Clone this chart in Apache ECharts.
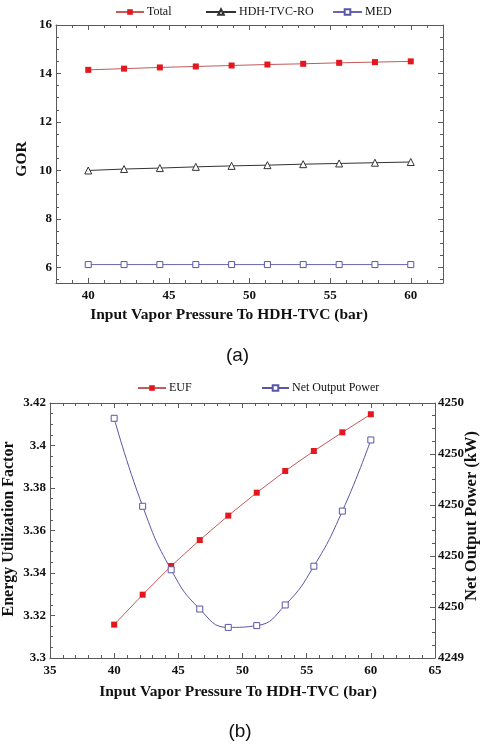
<!DOCTYPE html>
<html><head><meta charset="utf-8">
<script src="https://cdn.jsdelivr.net/npm/echarts@6/dist/echarts.min.js"></script>
<style>html,body{margin:0;padding:0;background:#fff}#c{width:481px;height:746px}</style>
</head><body><div id="c"></div>
<script>
// ---- data ----
const pressure = [40, 42.22, 44.44, 46.67, 48.89, 51.11, 53.33, 55.56, 57.78, 60];
const gorTotal = [14.15, 14.20, 14.25, 14.29, 14.33, 14.37, 14.40, 14.44, 14.47, 14.50];
const gorHdh   = [10.00, 10.06, 10.10, 10.15, 10.19, 10.22, 10.26, 10.29, 10.32, 10.35];
const gorMed   = [6.12, 6.12, 6.12, 6.12, 6.12, 6.12, 6.12, 6.12, 6.12, 6.12];
const euf      = [3.3157, 3.3298, 3.3433, 3.3555, 3.3670, 3.3778, 3.3880, 3.3974, 3.4062, 3.4147];
const netPower = [4250.340, 4249.995, 4249.746, 4249.592, 4249.520, 4249.527, 4249.608, 4249.760, 4249.976, 4250.255];

// ---- tick labels ----
const xTicksA = [40, 45, 50, 55, 60];
const yTicksA = [6, 8, 10, 12, 14, 16];
const xTicksB = [35, 40, 45, 50, 55, 60, 65];
const yTicksB = [3.30, 3.32, 3.34, 3.36, 3.38, 3.40, 3.42];
const yTicksB2 = [4249.4, 4249.6, 4249.8, 4250.0, 4250.2, 4250.4];

const AXIS = '#5a5a5a';
const SERIF = 'Liberation Serif';

function minorTicks(majors, n, lo, hi) {
  const step = (majors[1] - majors[0]) / n;
  const k0 = Math.ceil((lo - majors[0]) / step - 1e-9);
  const k1 = Math.floor((hi - majors[0]) / step + 1e-9);
  const out = [];
  for (let k = k0; k <= k1; k++) {
    if (k % n === 0) continue;
    out.push(+(majors[0] + k * step).toFixed(6));
  }
  return out;
}

function axisPair(grid, pos, min, max, majors, minorVals, labelOpt) {
  const common = {type: 'value', gridIndex: grid, position: pos, min: min, max: max,
    splitLine: {show: false}, scale: true};
  const major = Object.assign({}, common, {
    axisLine: {show: true, onZero: false, lineStyle: {color: AXIS, width: 1}},
    axisTick: {show: true, inside: true, length: 5, customValues: majors, lineStyle: {color: AXIS, width: 1}},
    axisLabel: labelOpt ? Object.assign({show: true, customValues: majors, fontFamily: SERIF,
      fontWeight: 'bold', fontSize: 13, color: '#111'}, labelOpt) : {show: false}
  });
  const minor = Object.assign({}, common, {
    axisLine: {show: false, onZero: false},
    axisTick: {show: true, inside: true, length: 3, customValues: minorVals, lineStyle: {color: AXIS, width: 1}},
    axisLabel: {show: false}
  });
  return [major, minor];
}

const xMinA = 38, xMaxA = 62, yMinA = 5.36, yMaxA = 16;
const xMinB = 35, xMaxB = 65, yMinB = 3.30, yMaxB = 3.42, y2MinB = 4249.4, y2MaxB = 4250.4;

const xAxes = [].concat(
  axisPair(0, 'bottom', xMinA, xMaxA, xTicksA, minorTicks(xTicksA, 5, xMinA, xMaxA), {margin: 6}),
  axisPair(0, 'top', xMinA, xMaxA, xTicksA, minorTicks(xTicksA, 5, xMinA, xMaxA), null),
  axisPair(1, 'bottom', xMinB, xMaxB, xTicksB, minorTicks(xTicksB, 5, xMinB, xMaxB), {margin: 6}),
  axisPair(1, 'top', xMinB, xMaxB, xTicksB, minorTicks(xTicksB, 5, xMinB, xMaxB), null)
);
const yAxes = [].concat(
  axisPair(0, 'left', yMinA, yMaxA, yTicksA, minorTicks(yTicksA, 4, yMinA, yMaxA), {margin: 4}),
  axisPair(0, 'right', yMinA, yMaxA, yTicksA, minorTicks(yTicksA, 4, yMinA, yMaxA), null),
  axisPair(1, 'left', yMinB, yMaxB, yTicksB, minorTicks(yTicksB, 4, yMinB, yMaxB),
    {margin: 4, formatter: v => String(+(+v).toFixed(3))}),
  axisPair(1, 'right', y2MinB, y2MaxB, yTicksB2, minorTicks(yTicksB2, 4, y2MinB, y2MaxB),
    {margin: 3, formatter: v => String(Math.round(v))})
);

function pts(ys) { return pressure.map((p, i) => [p, ys[i]]); }

function legendItem(name, left, top, w) {
  return {data: [name], left: left, top: top, itemWidth: w, itemHeight: 7, itemGap: 0, padding: 0,
    selectedMode: false,
    textStyle: {fontFamily: SERIF, fontSize: 12, color: '#111', padding: [0, 0, 0, -2]}};
}

function gtext(text, x, y, size, rot, family, weight) {
  return {type: 'text', x: x, y: y, rotation: rot || 0, silent: true,
    style: {text: text, fontSize: size, fontFamily: family || SERIF, fontWeight: weight || 'bold',
      fill: '#111', textAlign: 'center', align: 'center', textVerticalAlign: 'middle', verticalAlign: 'middle'}};
}

const option = {
  animation: false,
  backgroundColor: '#fff',
  grid: [
    {left: 56, top: 25, width: 387, height: 258, containLabel: false, outerBoundsMode: 'none'},
    {left: 50, top: 403, width: 385, height: 255, containLabel: false, outerBoundsMode: 'none'}
  ],
  xAxis: xAxes,
  yAxis: yAxes,
  legend: [
    legendItem('Total', 115, 6, 28),
    legendItem('HDH-TVC-RO', 205, 6, 30),
    legendItem('MED', 332, 6, 29),
    legendItem('EUF', 137, 382, 28),
    legendItem('Net Output Power', 261, 382, 27)
  ],
  series: [
    {name: 'Total', type: 'line', xAxisIndex: 0, yAxisIndex: 0, data: pts(gorTotal),
      symbol: 'rect', symbolSize: 6, showAllSymbol: true,
      itemStyle: {color: '#e3171d'}, lineStyle: {color: '#c45a5a', width: 1}},
    {name: 'HDH-TVC-RO', type: 'line', xAxisIndex: 0, yAxisIndex: 0, data: pts(gorHdh),
      symbol: 'triangle', symbolSize: 7, showAllSymbol: true,
      itemStyle: {color: '#fff', borderColor: '#333', borderWidth: 1}, lineStyle: {color: '#333', width: 1}},
    {name: 'MED', type: 'line', xAxisIndex: 0, yAxisIndex: 0, data: pts(gorMed),
      symbol: 'rect', symbolSize: 6, showAllSymbol: true,
      itemStyle: {color: '#fff', borderColor: '#5a56a6', borderWidth: 1}, lineStyle: {color: '#6a66b4', width: 1}},
    {name: 'EUF', type: 'line', xAxisIndex: 4, yAxisIndex: 4, data: pts(euf),
      symbol: 'rect', symbolSize: 6, showAllSymbol: true,
      itemStyle: {color: '#e3171d'}, lineStyle: {color: '#c45a5a', width: 1}},
    {name: 'Net Output Power', type: 'line', xAxisIndex: 4, yAxisIndex: 6, data: pts(netPower),
      smooth: 0.5, symbol: 'rect', symbolSize: 6, showAllSymbol: true,
      itemStyle: {color: '#fff', borderColor: '#5a56a6', borderWidth: 1}, lineStyle: {color: '#5a56a6', width: 1}}
  ],
  graphic: [
    gtext('Input Vapor Pressure To HDH-TVC (bar)', 229, 315, 15.5),
    gtext('GOR', 22, 159, 15.5, Math.PI / 2),
    gtext('(a)', 237.5, 356, 19, 0, 'Liberation Sans', 'normal'),
    gtext('Input Vapor Pressure To HDH-TVC (bar)', 238, 692, 15.5),
    gtext('Energy Utilization Factor', 8.5, 529, 16, Math.PI / 2),
    gtext('Net Output Power (kW)', 472, 516, 16.5, Math.PI / 2),
    gtext('(b)', 240, 732, 19, 0, 'Liberation Sans', 'normal')
  ]
};

const chart = echarts.init(document.getElementById('c'), null, {renderer: 'canvas'});
chart.setOption(option);
</script>
</body></html>
